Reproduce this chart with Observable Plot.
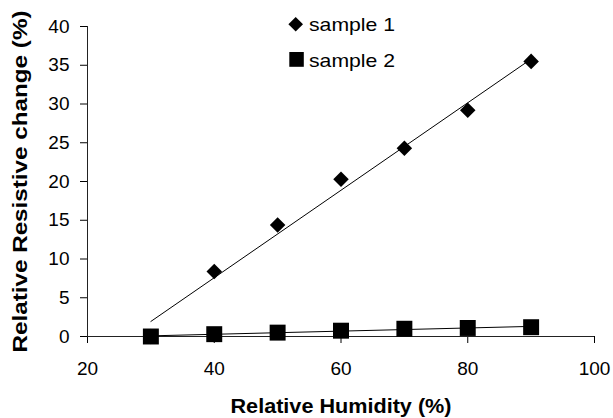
<!DOCTYPE html>
<html>
<head>
<meta charset="utf-8">
<script src="https://cdn.jsdelivr.net/npm/d3@7"></script>
<script src="https://cdn.jsdelivr.net/npm/@observablehq/plot@0.6"></script>
<style>
  body { margin: 0; background: white; }
  #wrap { position: relative; width: 613px; height: 418px; }
  #legend { position: absolute; left: 0; top: 0; pointer-events: none; }
</style>
</head>
<body>
<div id="wrap"></div>
<script>
// Data
const humidity1 = [30, 40, 50, 60, 70, 80, 90];
const sample1 = [0, 8.4, 14.4, 20.3, 24.3, 29.2, 35.5];
const humidity2 = [30, 40, 50, 60, 70, 80, 90];
const sample2 = [0, 0.3, 0.5, 0.75, 1.0, 1.1, 1.2];
const xTicks = [20, 40, 60, 80, 100];
const yTicks = [0, 5, 10, 15, 20, 25, 30, 35, 40];
const seriesNames = ["sample 1", "sample 2"];
const xTitle = "Relative Humidity (%)";
const yTitle = "Relative Resistive change (%)";

const d1 = humidity1.map((x, i) => ({x, y: sample1[i]}));
const d2 = humidity2.map((x, i) => ({x, y: sample2[i]}));

const font = "'Liberation Sans', Arial, sans-serif";

const chart = Plot.plot({
  width: 613,
  height: 418,
  marginLeft: 87,
  marginRight: 19,
  marginTop: 26,
  marginBottom: 82,
  style: {fontFamily: font, fontSize: "19px", background: "white", color: "black"},
  x: {domain: [20, 100]},
  y: {domain: [0, 40]},
  marks: [
    Plot.axisX({ticks: xTicks, tickSize: 7, tickPadding: 18, label: null, fontSize: 19}),
    Plot.axisY({ticks: yTicks, tickSize: 7, tickPadding: 11, label: null, fontSize: 19}),
    Plot.ruleY([0], {stroke: "#222", strokeWidth: 1}),
    Plot.ruleX([20], {stroke: "#222", strokeWidth: 1}),
    Plot.linearRegressionY(d1, {x: "x", y: "y", ci: 0, stroke: "black", strokeWidth: 1}),
    Plot.linearRegressionY(d2, {x: "x", y: "y", ci: 0, stroke: "black", strokeWidth: 1}),
    Plot.dot(d1, {x: "x", y: "y", symbol: "diamond2", r: 7, fill: "black", stroke: "none"}),
    Plot.dot(d2, {x: "x", y: "y", symbol: "square", r: 9, fill: "black", stroke: "none"}),
    Plot.text([xTitle], {text: d => d, frameAnchor: "bottom", textAnchor: "middle", lineAnchor: "middle", dy: 70, fontWeight: "bold", fontSize: 19.5, fill: "black"}),
    Plot.text([yTitle], {text: d => d, frameAnchor: "left", textAnchor: "middle", lineAnchor: "middle", rotate: -90, dx: -67, fontWeight: "bold", fontSize: 19.5, fill: "black"})
  ]
});

// stretch titles to match the reference's wide lettering
chart.querySelectorAll("text").forEach(t => {
  if (t.textContent === xTitle) { t.setAttribute("textLength", 221); t.setAttribute("lengthAdjust", "spacingAndGlyphs"); }
  if (t.textContent === yTitle) { t.setAttribute("textLength", 342); t.setAttribute("lengthAdjust", "spacingAndGlyphs"); }
});

const wrap = document.getElementById("wrap");
wrap.appendChild(chart);

// Legend (vertical, over the plot)
const ns = "http://www.w3.org/2000/svg";
const leg = document.createElementNS(ns, "svg");
leg.setAttribute("id", "legend");
leg.setAttribute("width", 613);
leg.setAttribute("height", 100);
const dia = document.createElementNS(ns, "path");
dia.setAttribute("d", "M295.7,17 L303,24.3 L295.7,31.6 L288.4,24.3 Z");
dia.setAttribute("fill", "black");
leg.appendChild(dia);
const sq = document.createElementNS(ns, "rect");
sq.setAttribute("x", 289.3); sq.setAttribute("y", 52); sq.setAttribute("width", 14.5); sq.setAttribute("height", 14.8);
sq.setAttribute("fill", "black");
leg.appendChild(sq);
[[seriesNames[0], 31], [seriesNames[1], 66.8]].forEach(([s, y]) => {
  const t = document.createElementNS(ns, "text");
  t.setAttribute("x", 309); t.setAttribute("y", y);
  t.setAttribute("font-family", font); t.setAttribute("font-size", 18.5);
  t.setAttribute("textLength", 86); t.setAttribute("lengthAdjust", "spacingAndGlyphs");
  t.setAttribute("fill", "black");
  t.textContent = s;
  leg.appendChild(t);
});
wrap.appendChild(leg);
</script>
</body>
</html>
